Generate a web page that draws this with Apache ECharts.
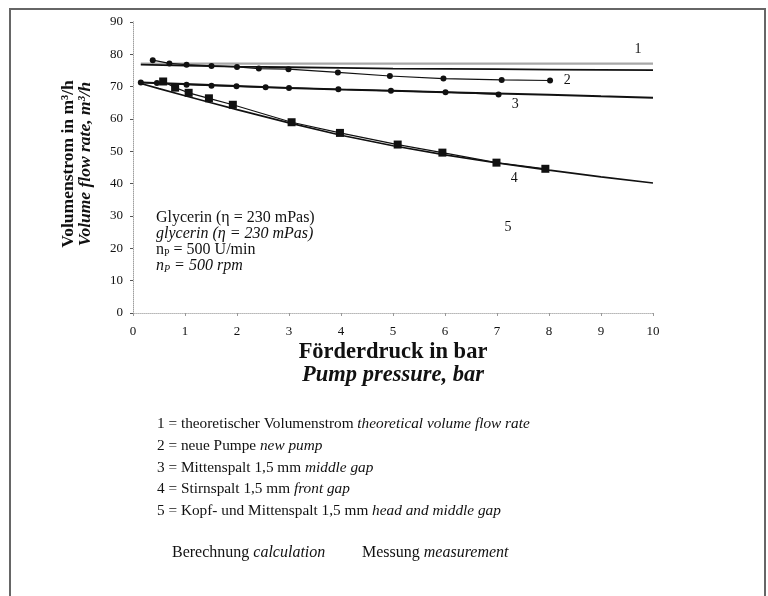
<!DOCTYPE html>
<html>
<head>
<meta charset="utf-8">
<script src="https://cdn.jsdelivr.net/npm/echarts@6/dist/echarts.min.js"></script>
<style>
  html, body { margin: 0; padding: 0; background: #fff; }
  #chart { width: 768px; height: 596px; }
</style>
</head>
<body>
<div id="chart"></div>
<script>
// 1 = theoretischer Volumenstrom (Berechnung)
const theoX = [0.15, 10]
const theoY = [77.1, 77.1]

// 2 = neue Pumpe
const calc2X = [0.15, 1, 2, 3, 4, 5, 6, 7, 8, 9, 10]
const calc2Y = [76.8, 76.5, 76.2, 76.0, 75.8, 75.6, 75.5, 75.4, 75.3, 75.2, 75.1]
const meas2X = [0.38, 0.7, 1.03, 1.51, 2.0, 2.42, 2.99, 3.94, 4.94, 5.97, 7.09, 8.02]
const meas2Y = [78.2, 77.2, 76.8, 76.4, 76.1, 75.6, 75.4, 74.4, 73.3, 72.5, 72.1, 71.9]

// 3 = Mittenspalt
const calc3X = [0.15, 1, 2, 3, 4, 5, 6, 7, 8, 9, 10]
const calc3Y = [71.3, 70.8, 70.2, 69.6, 69.1, 68.7, 68.3, 67.9, 67.5, 67.0, 66.6]
const meas3X = [0.15, 0.46, 1.03, 1.51, 1.99, 2.55, 3.0, 3.95, 4.96, 6.01, 7.03]
const meas3Y = [71.3, 71.1, 70.6, 70.3, 70.1, 69.8, 69.6, 69.2, 68.7, 68.3, 67.6]

// 4 = Stirnspalt
const meas4X = [0.58, 0.81, 1.07, 1.46, 1.92, 3.05, 3.98, 5.09, 5.95, 6.99, 7.93]
const meas4Y = [71.6, 69.7, 68.1, 66.4, 64.4, 59.0, 55.7, 52.1, 49.6, 46.5, 44.6]

// 5 = Kopf- und Mittenspalt (Berechnung)
const calc5X = [0.15, 0.5, 1, 1.5, 2, 3, 4, 5, 6, 7, 8, 9, 10]
const calc5Y = [71.0, 69.4, 67.2, 65.0, 62.9, 58.8, 55.0, 51.7, 48.9, 46.4, 44.2, 42.1, 40.2]

// Kurvennummern
const tagX = [9.71, 8.35, 7.35, 7.33, 7.21]
const tagY = [81.6, 72.0, 64.6, 41.7, 26.6]
const tagText = ['1', '2', '3', '4', '5']

const legendLines = [
  ['1 = theoretischer Volumenstrom ', 'theoretical volume flow rate'],
  ['2 = neue Pumpe ', 'new pump'],
  ['3 = Mittenspalt 1,5 mm ', 'middle gap'],
  ['4 = Stirnspalt 1,5 mm ', 'front gap'],
  ['5 = Kopf- und Mittenspalt 1,5 mm ', 'head and middle gap']
]

const zip = (xs, ys) => xs.map((x, i) => [x, ys[i]])
const serif = '"Liberation Serif", "DejaVu Serif", serif'
const ink = '#111'

const calcLine = (data, width) => ({
  type: 'line', data, showSymbol: false, symbol: 'none',
  lineStyle: { color: ink, width: width || 1.8 }, z: 3
})
const measLine = (data, symbol, size) => ({
  type: 'line', data, symbol, symbolSize: size,
  itemStyle: { color: ink }, lineStyle: { color: ink, width: 1.2 }, z: 4
})

const option = {
  animation: false,
  backgroundColor: '#fff',
  textStyle: { fontFamily: serif },
  grid: { left: 133, right: 115, top: 22, bottom: 283 },
  xAxis: [{
    type: 'value', min: 0, max: 10, interval: 1,
    axisLine: { lineStyle: { color: '#999' } },
    axisTick: { length: 3, lineStyle: { color: '#999' } },
    axisLabel: { color: ink, fontSize: 13, fontFamily: serif, margin: 12 },
    splitLine: { show: false }
  }, {
    type: 'value', min: 0, max: 10, position: 'top',
    axisLine: { lineStyle: { color: '#ccc', type: 'dotted' } },
    axisTick: { show: false }, axisLabel: { show: false }, splitLine: { show: false }
  }],
  yAxis: [{
    type: 'value', min: 0, max: 90, interval: 10,
    axisLine: { show: true, lineStyle: { color: '#555' } },
    axisTick: { show: true, length: 3, lineStyle: { color: '#555' } },
    axisLabel: { color: ink, fontSize: 13, fontFamily: serif, margin: 10 },
    splitLine: { show: false }
  }, {
    type: 'value', min: 0, max: 90, position: 'right',
    axisLine: { show: true, lineStyle: { color: '#ccc', type: 'dotted' } },
    axisTick: { show: false }, axisLabel: { show: false }, splitLine: { show: false }
  }],
  series: [
    { type: 'line', data: zip(theoX, theoY), symbol: 'none', lineStyle: { color: '#a8a8a8', width: 2.2 }, z: 2 },
    calcLine(zip(calc2X, calc2Y), 1.8),
    measLine(zip(meas2X, meas2Y), 'circle', 6),
    calcLine(zip(calc3X, calc3Y), 2),
    measLine(zip(meas3X, meas3Y), 'circle', 6),
    measLine(zip(meas4X, meas4Y), 'rect', 8),
    calcLine(zip(calc5X, calc5Y), 1.6),
    {
      type: 'scatter', symbolSize: 0, z: 5,
      data: tagX.map((x, i) => [x, tagY[i], tagText[i]]),
      label: {
        show: true, position: 'inside', color: ink, fontSize: 14, fontFamily: serif,
        textBorderWidth: 0, opacity: 1,
        formatter: p => p.value[2]
      }
    }
  ],
  graphic: [
    {
      type: 'rect', shape: { x: 10, y: 9, width: 755, height: 620 },
      style: { fill: 'none', stroke: '#666', lineWidth: 2 }, silent: true
    },
    {
      type: 'text', x: 77, y: 164, rotation: Math.PI / 2,
      style: {
        text: '{a|Volumenstrom in m³/h}\n{b|Volume flow rate, m³/h}',
        align: 'center', verticalAlign: 'middle',
        rich: {
          a: { fontFamily: serif, fontSize: 17.5, fontWeight: 'bold', fill: ink, lineHeight: 17 },
          b: { fontFamily: serif, fontSize: 17.5, fontWeight: 'bold', fontStyle: 'italic', fill: ink, lineHeight: 17 }
        }
      }
    },
    {
      type: 'text', x: 393, y: 364,
      style: {
        text: '{a|Förderdruck in bar}\n{b|Pump pressure, bar}',
        align: 'center', verticalAlign: 'middle',
        rich: {
          a: { fontFamily: serif, fontSize: 22.5, fontWeight: 'bold', fill: ink, lineHeight: 23 },
          b: { fontFamily: serif, fontSize: 22.5, fontWeight: 'bold', fontStyle: 'italic', fill: ink, lineHeight: 23 }
        }
      }
    },
    {
      type: 'text', x: 156, y: 210,
      style: {
        text: '{r|Glycerin (η = 230 mPas)}\n{i|glycerin (η = 230 mPas)}\n{r|n}{rs|P}{r| = 500 U/min}\n{i|n}{is|P}{i| = 500 rpm}',
        rich: {
          r: { fontFamily: serif, fontSize: 16, fill: ink, lineHeight: 16 },
          i: { fontFamily: serif, fontSize: 16, fontStyle: 'italic', fill: ink, lineHeight: 16 },
          rs: { fontFamily: serif, fontSize: 10, fill: ink, lineHeight: 16, verticalAlign: 'bottom' },
          is: { fontFamily: serif, fontSize: 10, fontStyle: 'italic', fill: ink, lineHeight: 16, verticalAlign: 'bottom' }
        }
      }
    },
    {
      type: 'text', x: 157, y: 413,
      style: {
        text: legendLines.map(l => '{r|' + l[0] + '}{i|' + l[1] + '}').join('\n'),
        rich: {
          r: { fontFamily: serif, fontSize: 15.3, fill: ink, lineHeight: 21.8 },
          i: { fontFamily: serif, fontSize: 15.3, fontStyle: 'italic', fill: ink, lineHeight: 21.8 }
        }
      }
    },
    {
      type: 'text', x: 172, y: 545,
      style: {
        text: '{r|Berechnung }{i|calculation}',
        rich: {
          r: { fontFamily: serif, fontSize: 16, fill: ink },
          i: { fontFamily: serif, fontSize: 16, fontStyle: 'italic', fill: ink }
        }
      }
    },
    {
      type: 'text', x: 362, y: 545,
      style: {
        text: '{r|Messung }{i|measurement}',
        rich: {
          r: { fontFamily: serif, fontSize: 16, fill: ink },
          i: { fontFamily: serif, fontSize: 16, fontStyle: 'italic', fill: ink }
        }
      }
    }
  ]
}

const chart = echarts.init(document.getElementById('chart'))
chart.setOption(option)
</script>
</body>
</html>
